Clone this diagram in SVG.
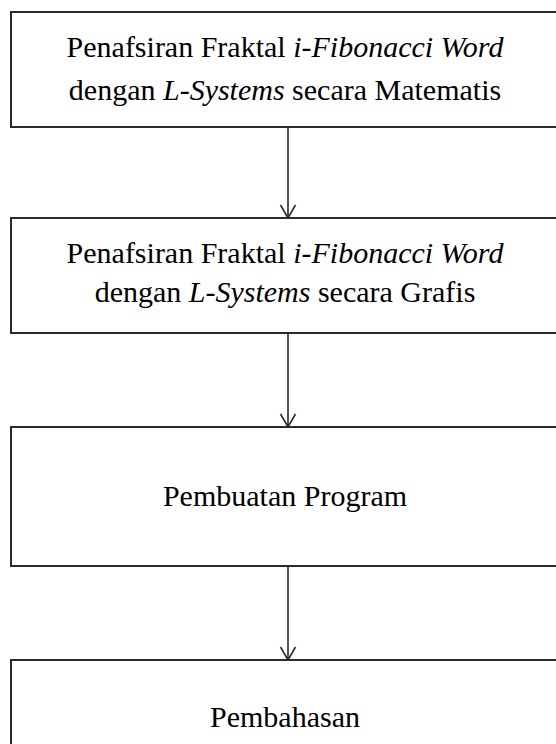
<svg xmlns="http://www.w3.org/2000/svg" width="556" height="744" viewBox="0 0 556 744">
<style>
.box{fill:#fff;stroke:#2a2a2a;stroke-width:2}
.t{font-family:"Liberation Serif","Times New Roman",serif;font-size:30px;fill:#000;text-anchor:middle}
.i{font-style:italic}
.c{stroke:#2a2a2a;stroke-width:1.6;fill:none}
</style>
<defs>
<marker id="arr" viewBox="0 0 16 18" refX="15" refY="9" markerWidth="16" markerHeight="18" markerUnits="userSpaceOnUse" orient="auto">
<path d="M2,1.5 L15,9 L2,16.5" fill="none" stroke="#2a2a2a" stroke-width="1.6"/>
</marker>
</defs>
<rect width="556" height="744" fill="#fff"/>
<g id="connectors">
<line class="c" x1="288" y1="127" x2="288" y2="218" marker-end="url(#arr)"/>
<line class="c" x1="288" y1="333" x2="288" y2="427" marker-end="url(#arr)"/>
<line class="c" x1="288" y1="566" x2="288" y2="660" marker-end="url(#arr)"/>
</g>
<g id="node1">
<rect class="box" x="11" y="12" width="560" height="115"/>
<text class="t" x="285" y="57">Penafsiran Fraktal <tspan class="i">i-Fibonacci Word</tspan></text>
<text class="t" x="285" y="100">dengan <tspan class="i">L-Systems</tspan> secara Matematis</text>
</g>
<g id="node2">
<rect class="box" x="11" y="218" width="560" height="115"/>
<text class="t" x="285" y="263">Penafsiran Fraktal <tspan class="i">i-Fibonacci Word</tspan></text>
<text class="t" x="285" y="302">dengan <tspan class="i">L-Systems</tspan> secara Grafis</text>
</g>
<g id="node3">
<rect class="box" x="11" y="427" width="560" height="139"/>
<text class="t" x="285" y="506">Pembuatan Program</text>
</g>
<g id="node4">
<rect class="box" x="11" y="660" width="560" height="100"/>
<text class="t" x="285" y="727">Pembahasan</text>
</g>
</svg>
